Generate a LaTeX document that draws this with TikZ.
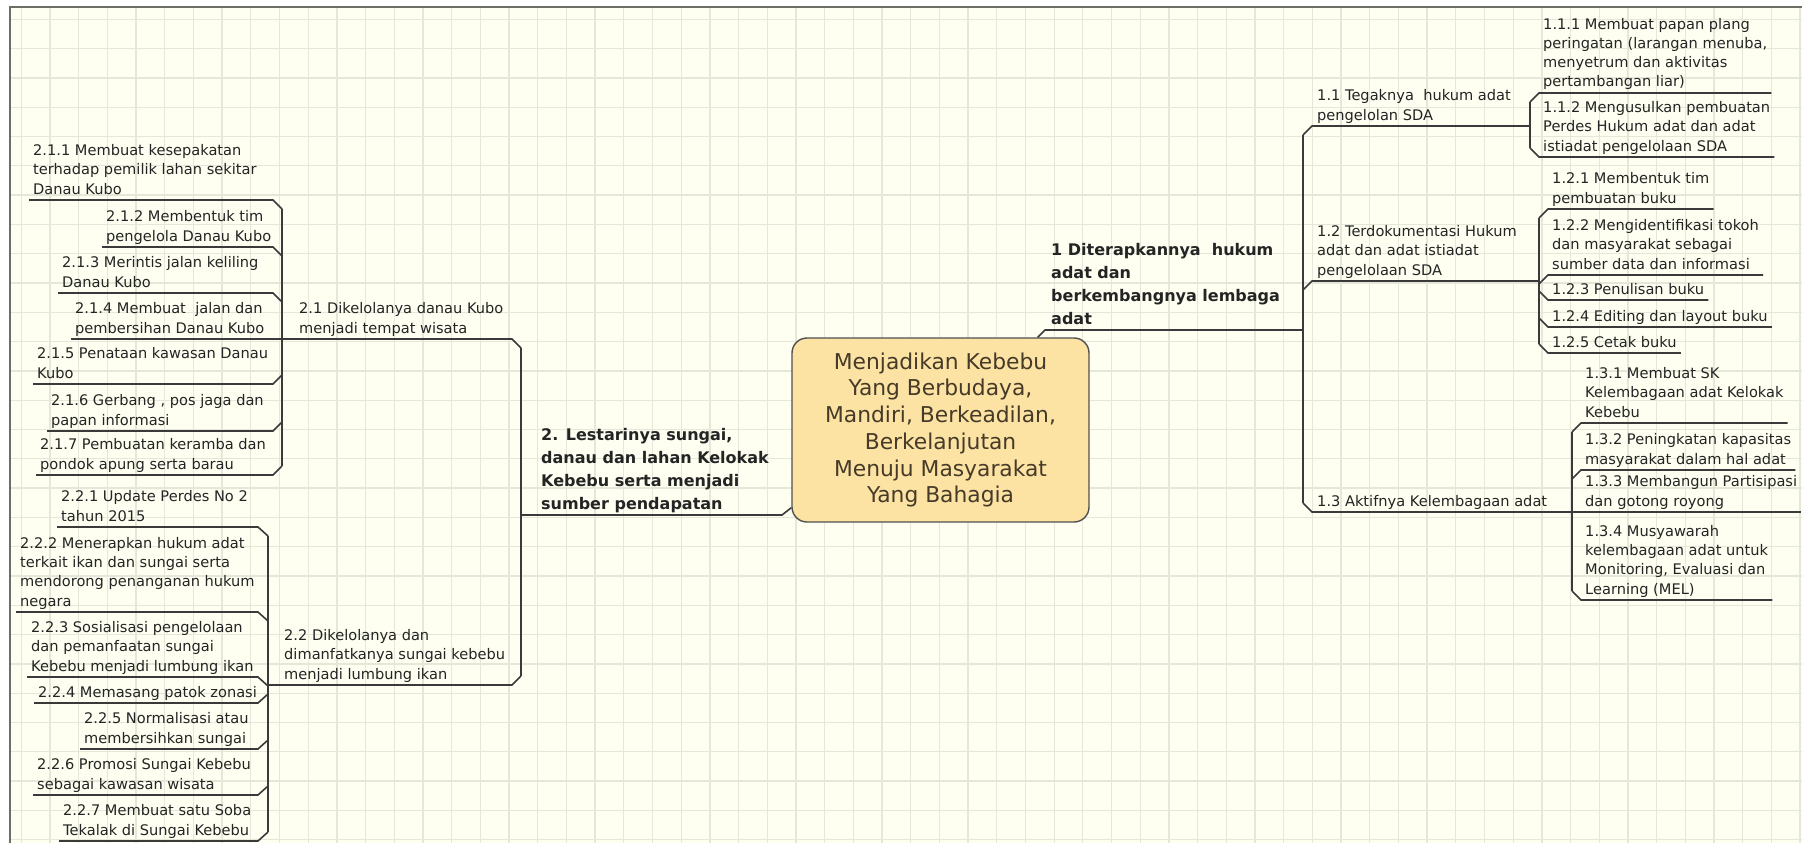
\documentclass[tikz,border=0pt]{standalone}
\usepackage{fontspec}
\setmainfont{DejaVu Sans}
\definecolor{paper}{RGB}{254,255,241}
\definecolor{gridcol}{RGB}{229,231,216}
\definecolor{framecol}{RGB}{110,110,100}
\definecolor{linecol}{RGB}{58,58,58}
\definecolor{txtcol}{RGB}{36,36,36}
\definecolor{rootfill}{RGB}{252,227,164}
\definecolor{rootline}{RGB}{80,80,80}
\definecolor{roottxt}{RGB}{70,58,40}
\newcommand\kidfont{\fontsize{14.6pt}{19.3pt}\selectfont}
\newcommand\topicfont{\fontsize{16pt}{23pt}\selectfont\bfseries}
\newcommand\rootfont{\fontsize{21.8pt}{26.7pt}\selectfont}
% multi-line text blocks; the baseline is that of the last line
\newcommand\lns[1]{\vbox{\halign{##\hfil\cr#1\crcr}}}
\newcommand\clns[1]{\vbox{\halign{\hfil##\hfil\cr#1\crcr}}}
\begin{document}
\begin{tikzpicture}[x=1pt,y=-1pt,
  link/.style={draw=linecol,line width=1.6pt,line join=miter},
  kid/.style={anchor=base west,inner xsep=4pt,inner ysep=0pt,text=txtcol,font=\kidfont},
  topic/.style={anchor=base west,inner xsep=4pt,inner ysep=0pt,text=txtcol,font=\topicfont},
  rootbox/.style={draw=rootline,fill=rootfill,line width=1.4pt,rounded corners=15pt,
    minimum width=297pt,minimum height=184pt,inner sep=0pt,text=roottxt,font=\rootfont},
  gridline/.style={draw=gridcol,line width=1.3pt}]
\useasboundingbox (0,0) rectangle (1802,843);
\fill[white] (0,0) rectangle (1802,843);
% paper with grid
\fill[paper] (10,7) rectangle (1802,843);
\begin{scope}
  \clip (10,7) rectangle (1802,843);
  \foreach \i in {0,...,62} \draw[gridline] ({21.3+\i*28.69},7) -- ({21.3+\i*28.69},843);
  \foreach \j in {0,...,28} \draw[gridline] (10,{19.3+\j*29.3}) -- (1802,{19.3+\j*29.3});
\end{scope}
\draw[framecol,line width=1.5pt] (10,843) -- (10,7) -- (1802,7);

% central topic
\node[rootbox] (root) at (940.5,430) {\clns{Menjadikan Kebebu\cr Yang Berbudaya,\cr Mandiri, Berkeadilan,\cr Berkelanjutan\cr Menuju Masyarakat\cr Yang Bahagia}};

% ---------- branch 1 (right) ----------
\node[topic] (t1) at (1047,324) {\lns{1 Diterapkannya~ hukum\cr adat dan\cr berkembangnya lembaga\cr adat}};
\draw[link] ([xshift=-52pt]root.north east) -- (1045,330) -- (1303,330);
\draw[link] (1303,135) -- (1303,503);

\node[kid] (t11) at (1313,120) {\lns{1.1 Tegaknya~ hukum adat\cr pengelolan SDA}};
\draw[link] (1303,135) -- (1312,126) -- (1530,126);
\node[kid] (t12) at (1313,275) {\lns{1.2 Terdokumentasi Hukum\cr adat dan adat istiadat\cr pengelolaan SDA}};
\draw[link] (1303,290) -- (1312,281) -- (1539,281);
\node[kid] (t13) at (1313,506) {\lns{1.3 Aktifnya Kelembagaan adat}};
\draw[link] (1303,503) -- (1312,512) -- (1572,512);

% 1.1 children
\draw[link] (1530,102) -- (1530,148);
\node[kid] (t111) at (1539,87) {\lns{1.1.1 Membuat papan plang\cr peringatan (larangan menuba,\cr menyetrum dan aktivitas\cr pertambangan liar)}};
\draw[link] (1530,102) -- (1539,93) -- ([yshift=-6pt]t111.base east);
\node[kid] (t112) at (1539,151) {\lns{1.1.2 Mengusulkan pembuatan\cr Perdes Hukum adat dan adat\cr istiadat pengelolaan SDA}};
\draw[link] (1530,148) -- (1539,157) -- ([yshift=-6pt]t112.base east);

% 1.2 children
\draw[link] (1539,218) -- (1539,344);
\node[kid] (t121) at (1548,203) {\lns{1.2.1 Membentuk tim\cr pembuatan buku}};
\draw[link] (1539,218) -- (1548,209) -- ([yshift=-6pt]t121.base east);
\node[kid] (t122) at (1548,269) {\lns{1.2.2 Mengidentifikasi tokoh\cr dan masyarakat sebagai\cr sumber data dan informasi}};
\draw[link] (1539,284) -- (1548,275) -- ([yshift=-6pt]t122.base east);
\node[kid] (t123) at (1548,294) {\lns{1.2.3 Penulisan buku}};
\draw[link] (1539,291) -- (1548,300) -- ([yshift=-6pt]t123.base east);
\node[kid] (t124) at (1548,321) {\lns{1.2.4 Editing dan layout buku}};
\draw[link] (1539,318) -- (1548,327) -- ([yshift=-6pt]t124.base east);
\node[kid] (t125) at (1548,347) {\lns{1.2.5 Cetak buku}};
\draw[link] (1539,344) -- (1548,353) -- ([yshift=-6pt]t125.base east);

% 1.3 children
\draw[link] (1572,432) -- (1572,591);
\node[kid] (t131) at (1581,417) {\lns{1.3.1 Membuat SK\cr Kelembagaan adat Kelokak\cr Kebebu}};
\draw[link] (1572,432) -- (1581,423) -- ([yshift=-6pt]t131.base east);
\node[kid] (t132) at (1581,464) {\lns{1.3.2 Peningkatan kapasitas\cr masyarakat dalam hal adat}};
\draw[link] (1572,479) -- (1581,470) -- ([yshift=-6pt]t132.base east);
\node[kid] (t133) at (1581,506) {\lns{1.3.3 Membangun Partisipasi\cr dan gotong royong}};
\draw[link] (1572,512) -- ([yshift=-6pt]t133.base east);
\node[kid] (t134) at (1581,594) {\lns{1.3.4 Musyawarah\cr kelembagaan adat untuk\cr Monitoring, Evaluasi dan\cr Learning (MEL)}};
\draw[link] (1572,591) -- (1581,600) -- ([yshift=-6pt]t134.base east);

% ---------- branch 2 (left) ----------
\node[topic] (t2) at (537,509) {\lns{2. Lestarinya sungai,\cr danau dan lahan Kelokak\cr Kebebu serta menjadi\cr sumber pendapatan}};
\draw[link] (521,515) -- (782,515) -- ([yshift=15pt]root.south west);
\draw[link] (521,348) -- (521,676);

\node[kid] (t21) at (295,333) {\lns{2.1 Dikelolanya danau Kubo\cr menjadi tempat wisata}};
\draw[link] (282,339) -- (512,339) -- (521,348);
\node[kid] (t22) at (280,679) {\lns{2.2 Dikelolanya dan\cr dimanfatkanya sungai kebebu\cr menjadi lumbung ikan}};
\draw[link] (268,685) -- (512,685) -- (521,676);

% 2.1 children
\draw[link] (282,209) -- (282,466);
\node[kid] (t211) at (29,194) {\lns{2.1.1 Membuat kesepakatan\cr terhadap pemilik lahan sekitar\cr Danau Kubo}};
\draw[link] ([yshift=-6pt]t211.base west) -- (273,200) -- (282,209);
\node[kid] (t212) at (102,241) {\lns{2.1.2 Membentuk tim\cr pengelola Danau Kubo}};
\draw[link] ([yshift=-6pt]t212.base west) -- (273,247) -- (282,256);
\node[kid] (t213) at (58,287) {\lns{2.1.3 Merintis jalan keliling\cr Danau Kubo}};
\draw[link] ([yshift=-6pt]t213.base west) -- (273,293) -- (282,302);
\node[kid] (t214) at (71,333) {\lns{2.1.4 Membuat~ jalan dan\cr pembersihan Danau Kubo}};
\draw[link] ([yshift=-6pt]t214.base west) -- (282,339);
\node[kid] (t215) at (33,378) {\lns{2.1.5 Penataan kawasan Danau\cr Kubo}};
\draw[link] ([yshift=-6pt]t215.base west) -- (273,384) -- (282,375);
\node[kid] (t216) at (47,425) {\lns{2.1.6 Gerbang , pos jaga dan\cr papan informasi}};
\draw[link] ([yshift=-6pt]t216.base west) -- (273,431) -- (282,422);
\node[kid] (t217) at (36,469) {\lns{2.1.7 Pembuatan keramba dan\cr pondok apung serta barau}};
\draw[link] ([yshift=-6pt]t217.base west) -- (273,475) -- (282,466);

% 2.2 children
\draw[link] (268,536) -- (268,832);
\node[kid] (t221) at (57,521) {\lns{2.2.1 Update Perdes No 2\cr tahun 2015}};
\draw[link] ([yshift=-6pt]t221.base west) -- (258,527) -- (268,536);
\node[kid] (t222) at (16,606) {\lns{2.2.2 Menerapkan hukum adat\cr terkait ikan dan sungai serta\cr mendorong penanganan hukum\cr negara}};
\draw[link] ([yshift=-6pt]t222.base west) -- (258,612) -- (268,621);
\node[kid] (t223) at (27,671) {\lns{2.2.3 Sosialisasi pengelolaan\cr dan pemanfaatan sungai\cr Kebebu menjadi lumbung ikan}};
\draw[link] ([yshift=-6pt]t223.base west) -- (258,677) -- (268,686);
\node[kid] (t224) at (34,697) {\lns{2.2.4 Memasang patok zonasi}};
\draw[link] ([yshift=-6pt]t224.base west) -- (258,703) -- (268,694);
\node[kid] (t225) at (80,743) {\lns{2.2.5 Normalisasi atau\cr membersihkan sungai}};
\draw[link] ([yshift=-6pt]t225.base west) -- (258,749) -- (268,740);
\node[kid] (t226) at (33,789) {\lns{2.2.6 Promosi Sungai Kebebu\cr sebagai kawasan wisata}};
\draw[link] ([yshift=-6pt]t226.base west) -- (258,795) -- (268,786);
\node[kid] (t227) at (59,835) {\lns{2.2.7 Membuat satu Soba\cr Tekalak di Sungai Kebebu}};
\draw[link] ([yshift=-6pt]t227.base west) -- (258,841) -- (268,832);
\end{tikzpicture}
\end{document}
